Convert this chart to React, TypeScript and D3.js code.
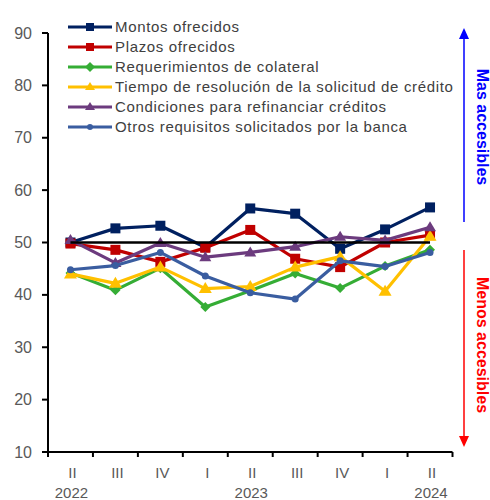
import React from "react";
import * as d3 from "d3";

const quarters = ["II", "III", "IV", "I", "II", "III", "IV", "I", "II"];
const years = ["2022", "", "", "", "2023", "", "", "", "2024"];
const yTicks = [10, 20, 30, 40, 50, 60, 70, 80, 90];

const montos = [50.0, 52.7, 53.2, 49.1, 56.5, 55.5, 48.8, 52.5, 56.7];
const plazos = [49.8, 48.6, 46.3, 49.0, 52.4, 46.9, 45.3, 50.0, 51.4];
const colateral = [44.2, 40.9, 45.1, 37.7, 40.8, 44.1, 41.3, 45.5, 48.6];
const tiempo = [44.0, 42.2, 45.3, 41.2, 41.6, 45.3, 47.3, 40.7, 51.2];
const condiciones = [50.5, 46.1, 49.9, 47.2, 48.1, 49.2, 51.1, 50.4, 52.9];
const otros = [44.8, 45.6, 48.1, 43.6, 40.4, 39.2, 46.5, 45.4, 48.1];

const seriesNames = [
  "Montos ofrecidos",
  "Plazos ofrecidos",
  "Requerimientos de colateral",
  "Tiempo de resolución de la solicitud de crédito",
  "Condiciones para refinanciar créditos",
  "Otros requisitos solicitados por la banca",
];
const seriesValues = [montos, plazos, colateral, tiempo, condiciones, otros];
const seriesColors = ["#002060", "#C00000", "#35AD35", "#FFC000", "#6C3B7E", "#3A5DA0"];
const seriesMarkers = ["square", "square", "diamond", "triangle", "triangle", "circle"];
const markerSizes = [10, 10, 8, 11, 10, 7];

function Marker({ type, x, y, size, color }: any) {
  const h = size / 2;
  if (type === "square") return <rect x={x - h} y={y - h} width={size} height={size} fill={color} />;
  if (type === "diamond")
    return <path d={`M${x},${y - h - 1}L${x + h + 1},${y}L${x},${y + h + 1}L${x - h - 1},${y}Z`} fill={color} />;
  if (type === "triangle")
    return <path d={`M${x},${y - h - 1}L${x + h + 1},${y + h - 1}L${x - h - 1},${y + h - 1}Z`} fill={color} />;
  return <circle cx={x} cy={y} r={h} fill={color} />;
}

export default function App() {
  const W = 490, H = 500;
  const x0 = 48, x1 = 452.5, yTop = 33, yBot = 452;
  const idx = quarters.map((_, i) => String(i));
  const x = d3.scaleBand().domain(idx).range([x0, x1]);
  const y = d3.scaleLinear().domain([10, 90]).range([yBot, yTop]);
  const cx = (i: number) => (x(String(i)) as number) + x.bandwidth() / 2;
  const line = d3.line<number>().x((_, i) => cx(i)).y((d) => y(d));
  const font = "'Liberation Sans', Arial, sans-serif";
  const grey = "#595959";

  return (
    <svg width={W} height={H} style={{ position: "absolute", left: 0, top: 0, background: "#fff" }} fontFamily={font}>
      {/* axes */}
      <line x1={x0} x2={x0} y1={yTop} y2={yBot} stroke="#000" strokeWidth={2} />
      <line x1={x0} x2={x1} y1={yBot} y2={yBot} stroke="#000" strokeWidth={2} />
      {yTicks.map((t) => (
        <g key={t}>
          <line x1={x0 - 6} x2={x0} y1={y(t)} y2={y(t)} stroke="#000" strokeWidth={2} />
          <text x={32} y={y(t) + 5.5} textAnchor="end" fontSize={16} fill={grey}>{t}</text>
        </g>
      ))}
      {d3.range(quarters.length + 1).map((i) => {
        const xx = i < quarters.length ? (x(String(i)) as number) : x1;
        return <line key={i} x1={xx} x2={xx} y1={yBot} y2={yBot + 5} stroke="#000" strokeWidth={2} />;
      })}
      {quarters.map((q, i) => (
        <text key={"q" + i} x={cx(i) + 2} y={478} textAnchor="middle" fontSize={15} fill={grey}>{q}</text>
      ))}
      {years.map((yr, i) =>
        yr ? (
          <text key={"y" + i} x={cx(i) + 1} y={498} textAnchor="middle" fontSize={15} fill={grey}>{yr}</text>
        ) : null
      )}
      {/* series */}
      {seriesValues.map((vals, s) => (
        <g key={s}>
          <path d={line(vals) || ""} fill="none" stroke={seriesColors[s]} strokeWidth={3.2} strokeLinejoin="round" />
          {vals.map((v, i) => (
            <Marker key={i} type={seriesMarkers[s]} x={cx(i)} y={y(v)} size={markerSizes[s]} color={seriesColors[s]} />
          ))}
        </g>
      ))}
      {/* reference line */}
      <line x1={cx(0)} x2={cx(quarters.length - 1)} y1={y(50)} y2={y(50)} stroke="#000" strokeWidth={2.5} />
      {/* legend */}
      {seriesNames.map((name, s) => {
        const ly = 27 + s * 20;
        return (
          <g key={name}>
            <line x1={68} x2={112} y1={ly} y2={ly} stroke={seriesColors[s]} strokeWidth={3.2} />
            <Marker type={seriesMarkers[s]} x={90} y={ly} size={seriesMarkers[s] === "circle" ? 6 : 8} color={seriesColors[s]} />
            <text x={115} y={ly + 5} fontSize={15} letterSpacing={0.65} fill="#404040">{name}</text>
          </g>
        );
      })}
      {/* arrows */}
      <line x1={464} x2={464} y1={36} y2={222} stroke="#0000FF" strokeWidth={1.5} />
      <path d="M464,28L469,39L459,39Z" fill="#0000FF" />
      <line x1={464} x2={464} y1={250} y2={438} stroke="#FF0000" strokeWidth={1.5} />
      <path d="M464,447L469,436L459,436Z" fill="#FF0000" />
      <text transform="translate(477,127) rotate(90)" textAnchor="middle" fontSize={16} fontWeight="bold" fill="#0000FF">Mas accesibles</text>
      <text transform="translate(477,345) rotate(90)" textAnchor="middle" fontSize={16} fontWeight="bold" fill="#FF0000">Menos accesibles</text>
    </svg>
  );
}
